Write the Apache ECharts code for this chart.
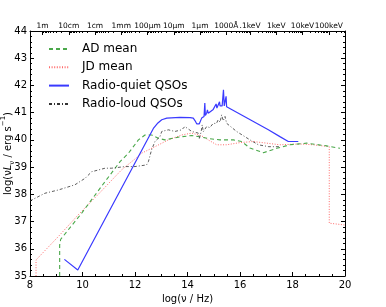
<!DOCTYPE html>
<html>
<head>
<meta charset="utf-8">
<script src="https://cdn.jsdelivr.net/npm/echarts@6/dist/echarts.min.js"></script>
<style>html,body{margin:0;padding:0;background:#fff}#c{width:386px;height:307px}</style>
</head>
<body>
<div id="c"></div>
<script>
// ---- data (log nu [Hz], log nuL_nu [erg/s]) ----
const seriesNames = ['AD mean', 'JD mean', 'Radio-quiet QSOs', 'Radio-loud QSOs'];

const adMean = [
  [9.13, 35.0], [9.13, 36.14], [9.17, 36.35], [9.97, 37.31], [10.86, 38.47],
  [11.43, 39.2], [11.75, 39.51], [12.13, 40.0], [12.38, 40.18], [12.64, 40.18],
  [12.89, 40.06], [13.14, 40.0], [13.65, 40.1], [14.16, 40.16], [14.54, 40.1],
  [14.86, 40.04], [15.24, 40.0], [15.75, 40.0], [16.06, 39.94], [16.38, 39.7],
  [16.89, 39.53], [17.40, 39.69], [17.90, 39.82], [18.54, 39.88], [19.30, 39.78],
  [19.81, 39.69]
];

const jdMean = [
  [8.23, 35.0], [8.23, 35.59], [9.08, 36.45], [9.84, 37.25], [10.6, 38.0],
  [11.49, 38.9], [12.0, 39.3], [12.25, 39.51], [12.76, 39.75], [13.27, 40.0],
  [13.78, 40.18], [14.16, 40.25], [14.54, 40.15], [14.79, 40.0], [15.11, 39.82],
  [15.49, 39.82], [16.0, 39.9], [16.5, 39.94], [17.02, 39.88], [17.52, 39.82],
  [18.29, 39.85], [18.79, 39.82], [19.40, 39.75], [19.40, 36.94], [19.94, 36.88],
  [20.0, 36.87]
];

const radioQuiet = [
  [9.31, 35.61], [9.82, 35.22], [12.70, 40.42], [12.85, 40.6], [13.02, 40.74],
  [13.21, 40.80], [13.71, 40.83], [14.10, 40.82], [14.22, 40.80], [14.29, 40.7],
  [14.35, 40.59], [14.45, 40.59], [14.54, 40.80], [14.63, 40.86], [14.66, 41.35],
  [14.68, 40.9], [14.73, 40.98], [14.76, 41.1], [14.79, 40.98], [14.86, 41.04],
  [14.98, 41.12], [15.05, 41.16], [15.09, 41.32], [15.12, 41.17], [15.17, 41.22],
  [15.22, 41.4], [15.24, 41.25], [15.28, 41.3], [15.32, 41.25], [15.37, 41.84],
  [15.40, 41.25], [15.44, 41.3], [15.47, 41.6], [15.49, 41.22], [17.08, 40.37],
  [17.52, 40.12], [17.84, 39.94], [18.22, 39.94]
];

const radioLoud = [
  [8.0, 37.76], [8.57, 38.04], [9.08, 38.16], [9.71, 38.35], [10.1, 38.59],
  [10.35, 38.83], [10.86, 38.96], [11.11, 38.96], [11.62, 39.02], [12.0, 39.02],
  [12.44, 39.08], [12.51, 39.2], [12.63, 39.63], [12.76, 39.94], [12.95, 40.12],
  [13.02, 40.31], [13.27, 40.37], [13.52, 40.31], [13.78, 40.37], [13.90, 40.49],
  [14.16, 40.31], [14.41, 40.25], [14.45, 40.05], [14.52, 40.3], [14.56, 40.55],
  [14.6, 40.3], [14.73, 40.49], [14.85, 40.45], [14.98, 40.61], [15.1, 40.6],
  [15.17, 40.74], [15.24, 40.65], [15.30, 40.92], [15.36, 40.7], [15.43, 40.86],
  [15.49, 40.61], [15.87, 40.31], [16.38, 40.0], [16.7, 39.82], [17.1, 39.75],
  [17.5, 39.75]
];

// top axis: wavelength / energy labels at log(nu)
const topLabels = ['1m', '10cm', '1cm', '1mm', '100\u03bcm', '10\u03bcm', '1\u03bcm', '1000\u00c5', '.1keV', '1keV', '10keV', '100keV'];
const topPositions = [8.477, 9.477, 10.477, 11.477, 12.477, 13.477, 14.477, 15.477, 16.383, 17.383, 18.383, 19.383];

// minor tick positions on top axis (log-spaced multiples)
const topMinor = [];
for (let n = 0; n <= 7; n++) {
  for (let k = 2; k <= 9; k++) {
    const v = topPositions[0] + n - Math.log10(k) + 1;
    if (v > 8 && v < 15.477 + 1e-6) topMinor.push(v);
  }
}
for (let n = -1; n <= 3; n++) {
  for (let k = 2; k <= 9; k++) {
    const v = topPositions[8] + n + Math.log10(k);
    if (v > 15.5 && v < 20) topMinor.push(v);
  }
}

const FONT = 'DejaVu Sans';
const chart = echarts.init(document.getElementById('c'), null, {renderer: 'canvas'});

const lineCommon = {type: 'line', showSymbol: false, symbol: 'circle', symbolSize: 0, clip: true, animation: false, xAxisIndex: 0, yAxisIndex: 0};

chart.setOption({
  animation: false,
  backgroundColor: '#fff',
  grid: {left: 30, right: 41, top: 31, bottom: 31, containLabel: false, outerBoundsMode: 'none'},
  legend: {
    orient: 'vertical', left: 43, top: 38, itemWidth: 20, itemHeight: 12, itemGap: 6.3,
    itemStyle: {opacity: 0, borderWidth: 0},
    textStyle: {fontFamily: FONT, fontSize: 12, color: '#000', padding: [0, 0, 0, 8]},
    data: seriesNames
  },
  xAxis: [
    {
      type: 'value', min: 8, max: 20, interval: 2, position: 'bottom',
      name: 'log(\u03bd / Hz)', nameLocation: 'middle', nameGap: 17,
      nameTextStyle: {fontFamily: FONT, fontSize: 10, color: '#000'},
      axisLine: {show: true, lineStyle: {color: '#000', width: 1}},
      axisTick: {show: true, inside: true, length: 4, lineStyle: {color: '#000'}},
      minorTick: {show: true, splitNumber: 4, length: 2, lineStyle: {color: '#000'}},
      axisLabel: {fontFamily: FONT, fontSize: 10, color: '#000', margin: 4},
      splitLine: {show: false}
    },
    {
      type: 'value', min: 8, max: 20, position: 'top',
      axisLine: {show: true, lineStyle: {color: '#000', width: 1}},
      axisTick: {show: true, inside: true, length: 4, customValues: topPositions, lineStyle: {color: '#000'}},
      axisLabel: {
        show: true, customValues: topPositions, fontFamily: FONT, fontSize: 7.5, color: '#000', margin: 1,
        formatter: function (v) {
          let best = 0, d = 1e9;
          topPositions.forEach(function (p, i) { if (Math.abs(p - v) < d) { d = Math.abs(p - v); best = i; } });
          return topLabels[best];
        }
      },
      splitLine: {show: false}
    },
    {
      type: 'value', min: 8, max: 20, position: 'top',
      axisLine: {show: false},
      axisTick: {show: true, inside: true, length: 2, customValues: topMinor, lineStyle: {color: '#000'}},
      axisLabel: {show: false},
      splitLine: {show: false}
    }
  ],
  yAxis: [
    {
      type: 'value', min: 35, max: 44, interval: 1, position: 'left',
      name: 'log(\u03bd{i|L}{sub|\u03bd} / erg s{sup|\u22121})', nameLocation: 'middle', nameGap: 17, nameRotate: 90,
      nameMoveOverlap: false,
      nameTextStyle: {
        fontFamily: FONT, fontSize: 10, color: '#000',
        rich: {
          i: {fontFamily: FONT, fontSize: 10, fontStyle: 'italic', color: '#000'},
          sub: {fontFamily: FONT, fontSize: 7, verticalAlign: 'bottom', color: '#000', padding: [0, 0, -3, 0]},
          sup: {fontFamily: FONT, fontSize: 7, verticalAlign: 'top', color: '#000', padding: [-3, 0, 0, 0]}
        }
      },
      axisLine: {show: true, lineStyle: {color: '#000', width: 1}},
      axisTick: {show: true, inside: true, length: 4, lineStyle: {color: '#000'}},
      minorTick: {show: true, splitNumber: 5, length: 2, lineStyle: {color: '#000'}},
      axisLabel: {fontFamily: FONT, fontSize: 10, color: '#000', margin: 3},
      splitLine: {show: false}
    },
    {
      type: 'value', min: 35, max: 44, interval: 1, position: 'right',
      axisLine: {show: true, lineStyle: {color: '#000', width: 1}},
      axisTick: {show: true, inside: true, length: 4, lineStyle: {color: '#000'}},
      minorTick: {show: true, splitNumber: 5, length: 2, lineStyle: {color: '#000'}},
      axisLabel: {show: false},
      splitLine: {show: false}
    }
  ],
  series: [
    Object.assign({}, lineCommon, {
      name: seriesNames[0], data: adMean, z: 3,
      lineStyle: {color: '#4aa84a', width: 1.1, type: [4, 3]}, itemStyle: {color: '#4aa84a'}
    }),
    Object.assign({}, lineCommon, {
      name: seriesNames[1], data: jdMean, z: 2,
      lineStyle: {color: '#ff6a6a', width: 1, type: [1, 1.6]}, itemStyle: {color: '#ff6a6a'}
    }),
    Object.assign({}, lineCommon, {
      name: seriesNames[2], data: radioQuiet, z: 4,
      lineStyle: {color: '#3a3aff', width: 1.2, type: 'solid'}, itemStyle: {color: '#3a3aff'}
    }),
    Object.assign({}, lineCommon, {
      name: seriesNames[3], data: radioLoud, z: 5,
      lineStyle: {color: '#333333', width: 0.8, type: [3, 2, 1, 2]}, itemStyle: {color: '#333333'}
    })
  ]
});
</script>
</body>
</html>
